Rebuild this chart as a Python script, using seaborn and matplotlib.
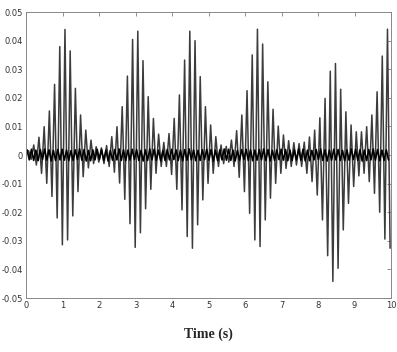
import numpy as np
import pandas as pd
import matplotlib
matplotlib.use('Agg')
import matplotlib.pyplot as plt
import seaborn as sns

# large response: height of each positive peak and each negative trough
peak_values = [0.0015, 0.0035, 0.0062, 0.0099, 0.0154, 0.0247, 0.0379, 0.0439, 0.0364, 0.0233,
               0.0140, 0.0087, 0.0052, 0.0029, 0.0025, 0.0033, 0.0064, 0.0099, 0.0169, 0.0276,
               0.0404, 0.0433, 0.0330, 0.0204, 0.0128, 0.0073, 0.0044, 0.0075, 0.0128, 0.0210,
               0.0332, 0.0433, 0.0400, 0.0274, 0.0169, 0.0105, 0.0064, 0.0035, 0.0030, 0.0052,
               0.0085, 0.0140, 0.0225, 0.0350, 0.0440, 0.0388, 0.0256, 0.0160, 0.0101, 0.0070,
               0.0050, 0.0043, 0.0040, 0.0045, 0.0063, 0.0087, 0.0130, 0.0198, 0.0293, 0.0320,
               0.0230, 0.0151, 0.0105, 0.0081, 0.0081, 0.0099, 0.0140, 0.0221, 0.0346, 0.0440]
trough_values = [-0.0015, -0.0035, -0.0064, -0.0099, -0.0145, -0.0220, -0.0314, -0.0297, -0.0213, -0.0128,
                 -0.0076, -0.0045, -0.0030, -0.0025, -0.0030, -0.0040, -0.0060, -0.0098, -0.0155, -0.0240,
                 -0.0323, -0.0272, -0.0188, -0.0120, -0.0064, -0.0040, -0.0040, -0.0068, -0.0120, -0.0192,
                 -0.0285, -0.0326, -0.0244, -0.0157, -0.0099, -0.0064, -0.0040, -0.0030, -0.0025, -0.0040,
                 -0.0078, -0.0128, -0.0204, -0.0297, -0.0320, -0.0227, -0.0151, -0.0099, -0.0064, -0.0047,
                 -0.0040, -0.0035, -0.0040, -0.0064, -0.0093, -0.0140, -0.0227, -0.0352, -0.0442, -0.0396,
                 -0.0262, -0.0169, -0.0110, -0.0073, -0.0064, -0.0093, -0.0134, -0.0200, -0.0294, -0.0326]

# small response near zero (bold line)
small_peaks = [0.0018, 0.0020, 0.0017, 0.0019, 0.0021, 0.0018, 0.0016, 0.0019, 0.0020, 0.0017,
               0.0015, 0.0018, 0.0021, 0.0019, 0.0016, 0.0018, 0.0020, 0.0019, 0.0017, 0.0016,
               0.0019, 0.0021, 0.0018, 0.0017, 0.0020, 0.0019, 0.0016, 0.0018, 0.0021, 0.0020,
               0.0017, 0.0016, 0.0019, 0.0020, 0.0018, 0.0017, 0.0019, 0.0021, 0.0018, 0.0016,
               0.0018, 0.0020, 0.0019, 0.0017, 0.0018, 0.0021, 0.0020, 0.0017, 0.0016, 0.0019,
               0.0020, 0.0018, 0.0017, 0.0019, 0.0021, 0.0019, 0.0016, 0.0018, 0.0020, 0.0019,
               0.0017, 0.0018, 0.0021, 0.0020, 0.0017, 0.0016, 0.0019, 0.0021, 0.0018, 0.0017,
               0.0020, 0.0019, 0.0016, 0.0018, 0.0021, 0.0020, 0.0018, 0.0017, 0.0019, 0.0021,
               0.0019, 0.0017, 0.0018]
small_troughs = [-0.0017, -0.0019, -0.0020, -0.0016, -0.0018, -0.0021, -0.0019, -0.0017, -0.0018, -0.0020,
                 -0.0019, -0.0016, -0.0018, -0.0021, -0.0020, -0.0017, -0.0016, -0.0019, -0.0021, -0.0018,
                 -0.0017, -0.0019, -0.0020, -0.0018, -0.0016, -0.0019, -0.0021, -0.0019, -0.0017, -0.0018,
                 -0.0020, -0.0019, -0.0017, -0.0016, -0.0019, -0.0021, -0.0018, -0.0017, -0.0020, -0.0019,
                 -0.0016, -0.0018, -0.0021, -0.0020, -0.0017, -0.0018, -0.0019, -0.0021, -0.0018, -0.0016,
                 -0.0019, -0.0020, -0.0018, -0.0017, -0.0019, -0.0021, -0.0019, -0.0016, -0.0018, -0.0020,
                 -0.0019, -0.0017, -0.0018, -0.0021, -0.0020, -0.0017, -0.0016, -0.0019, -0.0021, -0.0018,
                 -0.0017, -0.0019, -0.0020, -0.0018, -0.0016, -0.0019, -0.0021, -0.0019, -0.0017, -0.0018,
                 -0.0020, -0.0019, -0.0017]

x_ticks = list(range(0, 11))
y_ticks = [-0.05, -0.04, -0.03, -0.02, -0.01, 0, 0.01, 0.02, 0.03, 0.04, 0.05]
y_tick_labels = ['-0.05', '-0.04', '-0.03', '-0.02', '-0.01', '0', '0.01', '0.02', '0.03', '0.04', '0.05']

# sampling grid: peaks and troughs alternate half a period apart
big_period = 0.1425
big_t = np.concatenate([[0.0], 0.07 + big_period * np.arange(len(peak_values)),
                        0.07 + big_period * (np.arange(len(trough_values)) + 0.5)])
big_v = np.concatenate([[0.0], peak_values, trough_values])
big = pd.DataFrame({'t': big_t, 'v': big_v}).sort_values('t')

small_period = 0.12
small_t = np.concatenate([[0.0], 0.03 + small_period * np.arange(len(small_peaks)),
                          0.03 + small_period * (np.arange(len(small_troughs)) + 0.5)])
small_v = np.concatenate([[0.0], small_peaks, small_troughs])
small = pd.DataFrame({'t': small_t, 'v': small_v}).sort_values('t')
small = small[small['t'] <= 10]

sns.set_style('white')
fig = plt.figure(figsize=(3.97, 3.52), dpi=100)
ax = fig.add_axes([0.0655, 0.1534, 0.9195, 0.8125])

sns.lineplot(data=big, x='t', y='v', ax=ax, color='#3c3c3c', linewidth=1.1, errorbar=None)
sns.lineplot(data=small, x='t', y='v', ax=ax, color='black', linewidth=1.2, errorbar=None)

ax.set_xlim(0, 10)
ax.set_ylim(-0.05, 0.05)
ax.set_xticks(x_ticks)
ax.set_xticklabels([str(x) for x in x_ticks])
ax.set_yticks(y_ticks)
ax.set_yticklabels(y_tick_labels)
ax.tick_params(direction='in', top=True, right=True, length=3, width=0.5,
               colors='#666', labelcolor='#333', labelsize=6, pad=2)
for s in ax.spines.values():
    s.set_color('#888')
    s.set_linewidth(0.7)

ax.set_ylabel('')
ax.set_xlabel('Time (s)', family='Liberation Serif', fontweight='bold', fontsize=10, labelpad=13)

plt.savefig('out.png', dpi=100)
